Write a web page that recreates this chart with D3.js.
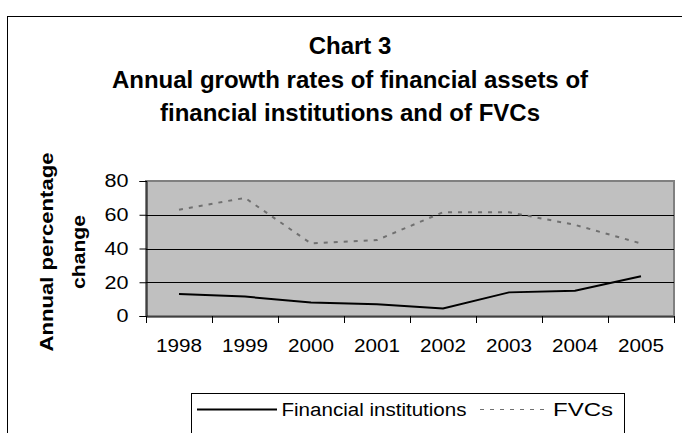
<!DOCTYPE html>
<html><head><meta charset="utf-8">
<script src="https://cdn.jsdelivr.net/npm/d3@7/dist/d3.min.js"></script>
<style>body{margin:0;background:#fff}svg{display:block;font-family:"Liberation Sans",Arial,sans-serif}</style>
</head><body><svg id="c" width="682" height="433"></svg>
<script>
const years = ["1998","1999","2000","2001","2002","2003","2004","2005"];
const financialInstitutions = [13, 11.5, 8, 7, 4.5, 14, 15, 23.5];
const fvcs = [63, 70, 43, 45, 61.5, 61.5, 54, 43];
const yTicks = [0, 20, 40, 60, 80];
const titleLines = ["Chart 3", "Annual growth rates of financial assets of", "financial institutions and of FVCs"];
const yLabelLines = ["Annual percentage", "change"];
const seriesNames = ["Financial institutions", "FVCs"];

const FONT = "Liberation Sans, Arial, sans-serif";
const svg = d3.select("#c");
// outer chart border
svg.append("rect").attr("x",7.5).attr("y",16.5).attr("width",700).attr("height",440)
  .attr("fill","#fff").attr("stroke","#000").attr("stroke-width",1);

const m = {l:146, r:674, t:181, b:316};
const x = d3.scaleBand().domain(years).range([m.l, m.r]);
const y = d3.scaleLinear().domain([0,80]).range([m.b, m.t]);

// plot area
svg.append("rect").attr("x",m.l).attr("y",m.t).attr("width",m.r-m.l).attr("height",m.b-m.t)
  .attr("fill","#c0c0c0").attr("stroke","#808080").attr("stroke-width",2);

// gridlines
svg.append("g").selectAll("line").data(yTicks.filter(d=>d>0 && d<80)).join("line")
  .attr("x1",m.l).attr("x2",m.r).attr("y1",d=>Math.round(y(d))+0.5).attr("y2",d=>Math.round(y(d))+0.5)
  .attr("stroke","#000").attr("stroke-width",1);

// y axis
const ya = svg.append("g").attr("transform",`translate(${m.l+0.5},0)`)
  .call(d3.axisLeft(y).tickValues(yTicks).tickSize(7).tickPadding(11));
ya.select(".domain").attr("stroke","#000");
ya.selectAll("line").attr("stroke","#000");
ya.selectAll("text").attr("font-size",18).attr("fill","#000").attr("font-family",FONT)
  .attr("textLength",d=>String(d).length*12).attr("lengthAdjust","spacingAndGlyphs");

// x axis
const xa = svg.append("g").attr("transform",`translate(0,${m.b+0.5})`)
  .call(d3.axisBottom(x).tickSize(0).tickPadding(23));
xa.select(".domain").attr("stroke","#000");
xa.selectAll("text").attr("font-size",18).attr("fill","#000").attr("font-family",FONT)
  .attr("textLength",46).attr("lengthAdjust","spacingAndGlyphs");
// boundary ticks
const bounds = years.map(d=>x(d)).concat([m.r]);
svg.append("g").selectAll("line").data(bounds).join("line")
  .attr("x1",d=>Math.round(d)+0.5).attr("x2",d=>Math.round(d)+0.5)
  .attr("y1",m.b).attr("y2",m.b+7).attr("stroke","#000");

// lines
const line = d3.line().x((d,i)=>x(years[i])+x.bandwidth()/2).y(d=>y(d));
svg.append("path").datum(fvcs).attr("d",line).attr("fill","none")
  .attr("stroke","#707070").attr("stroke-width",2).attr("stroke-dasharray","4,6");
svg.append("path").datum(financialInstitutions).attr("d",line).attr("fill","none")
  .attr("stroke","#000").attr("stroke-width",2);

// title
svg.append("text").attr("text-anchor","middle").attr("font-weight","bold").attr("font-size",24)
  .selectAll("tspan").data(titleLines).join("tspan")
  .attr("x",350).attr("y",(d,i)=>54+i*33.5).text(d=>d);

// y label
const ylLen = [199, 74];
svg.append("text").attr("transform","translate(53,252) rotate(-90)").attr("text-anchor","middle")
  .attr("font-weight","bold").attr("font-size",18)
  .selectAll("tspan").data(yLabelLines).join("tspan")
  .attr("x",0).attr("y",(d,i)=>i*32).attr("textLength",(d,i)=>ylLen[i]).attr("lengthAdjust","spacingAndGlyphs").text(d=>d);

// legend
const lg = svg.append("g");
lg.append("rect").attr("x",191.5).attr("y",393.5).attr("width",433).attr("height",60)
  .attr("fill","#fff").attr("stroke","#000");
lg.append("line").attr("x1",197).attr("x2",277).attr("y1",409.5).attr("y2",409.5).attr("stroke","#000").attr("stroke-width",2);
lg.append("text").attr("x",281.5).attr("y",415.7).attr("font-size",18).attr("textLength",185).attr("lengthAdjust","spacingAndGlyphs").text(seriesNames[0]);
lg.append("line").attr("x1",480).attr("x2",550).attr("y1",409.5).attr("y2",409.5).attr("stroke","#707070").attr("stroke-width",1).attr("stroke-dasharray","4,6");
lg.append("text").attr("x",553).attr("y",415.7).attr("font-size",18).attr("textLength",60).attr("lengthAdjust","spacingAndGlyphs").text(seriesNames[1]);
</script></body></html>
